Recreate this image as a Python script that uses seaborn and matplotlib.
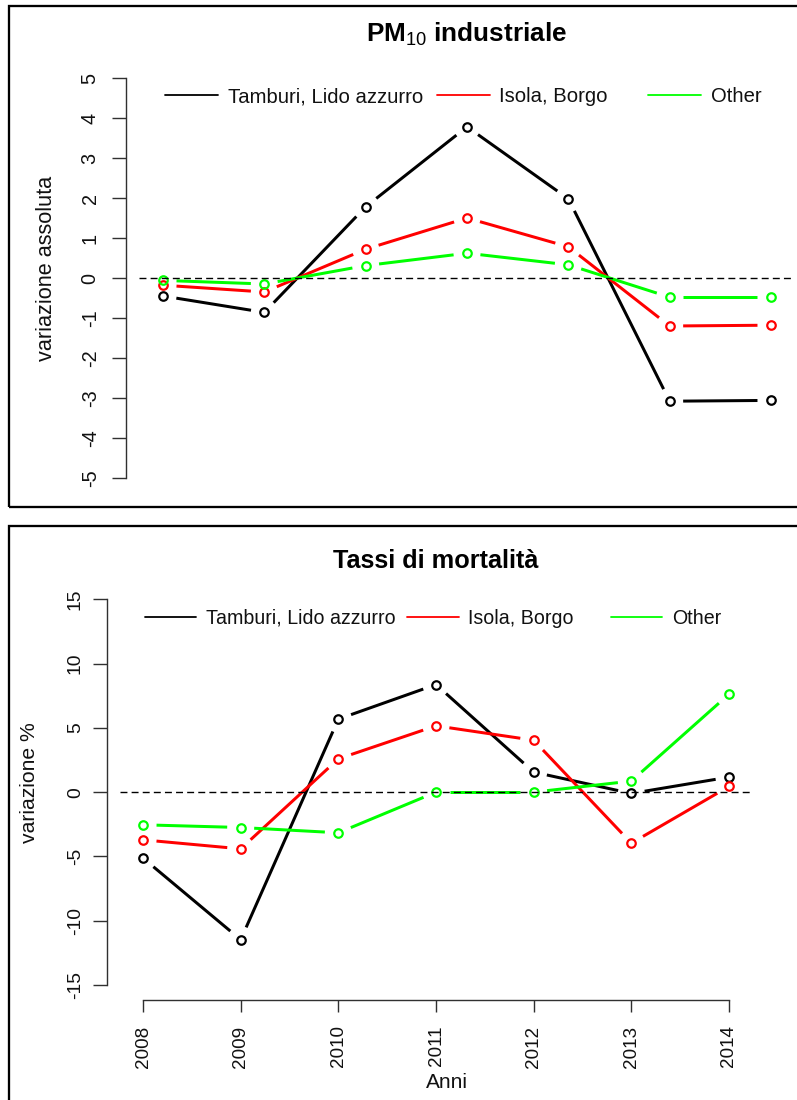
import numpy as np
import pandas as pd
import matplotlib
matplotlib.use("Agg")
import matplotlib.pyplot as plt
from matplotlib.lines import Line2D
from matplotlib.legend import Legend
from matplotlib.patches import Rectangle
import seaborn as sns

# ---------------------------------------------------------------- data
years = [2008, 2009, 2010, 2011, 2012, 2013, 2014]
zones = ["Tamburi, Lido azzurro", "Isola, Borgo", "Other"]
zone_colors = ["#000000", "#ff0000", "#00ff00"]

# PM10 industriale - variazione assoluta
pm10_tamburi = [-0.45, -0.86, 1.78, 3.78, 1.98, -3.08, -3.06]
pm10_isola = [-0.18, -0.35, 0.72, 1.50, 0.78, -1.20, -1.18]
pm10_other = [-0.06, -0.15, 0.31, 0.62, 0.33, -0.48, -0.48]

# Tassi di mortalità - variazione %
mort_tamburi = [-5.13, -11.48, 5.68, 8.37, 1.56, -0.10, 1.17]
mort_isola = [-3.71, -4.41, 2.59, 5.16, 4.04, -3.97, 0.44]
mort_other = [-2.54, -2.75, -3.16, 0.00, 0.00, 0.86, 7.62]

pm10_ticks = list(range(-5, 6))
mort_ticks = list(range(-15, 16, 5))

# ---------------------------------------------------------------- style
W, H, DPI = 797, 1100, 100
sns.set_style("white")
plt.rcParams["font.family"] = ["Liberation Sans", "DejaVu Sans"]
plt.rcParams["axes.unicode_minus"] = False
plt.rcParams["mathtext.fontset"] = "custom"
plt.rcParams["mathtext.rm"] = "Liberation Sans"
plt.rcParams["mathtext.it"] = "Liberation Sans:italic"
plt.rcParams["mathtext.bf"] = "Liberation Sans:bold"

AXIS_COLOR = "#303030"
TEXT_COLOR = "#111111"
GAP_PX = 13.5          # gap left around each point (R type="b")
PT = 72.0 / DPI        # pixels -> points


def fx(px):
    return px / W


def fy(py):
    return 1 - py / H


def px_box(left, top, right, bottom):
    return [left / W, 1 - bottom / H, (right - left) / W, (bottom - top) / H]


def gapped_segments(ax, xs, ys):
    """Line segments between consecutive points, shortened in screen space."""
    pts = ax.transData.transform(np.column_stack([xs, ys]))
    inv = ax.transData.inverted()
    rows = []
    for i in range(len(pts) - 1):
        d = pts[i + 1] - pts[i]
        length = np.hypot(*d)
        if length <= 2 * GAP_PX:
            continue
        u = d / length
        a, b = inv.transform([pts[i] + u * GAP_PX, pts[i + 1] - u * GAP_PX])
        rows.append({"seg": i, "x": a[0], "y": a[1]})
        rows.append({"seg": i, "x": b[0], "y": b[1]})
    return pd.DataFrame(rows)


def draw_series(ax, values_list):
    for vals, col in zip(values_list, zone_colors):
        seg = gapped_segments(ax, years, vals)
        sns.lineplot(data=seg, x="x", y="y", units="seg", estimator=None,
                     sort=False, color=col, linewidth=3 * PT,
                     solid_capstyle="butt", legend=False, ax=ax, zorder=3)
        sns.lineplot(x=years, y=vals, color=col, marker="o", linestyle="",
                     markerfacecolor="none", markeredgecolor=col,
                     markeredgewidth=2.2 * PT, markersize=8.5 * PT,
                     errorbar=None, legend=False, ax=ax, zorder=4)
    ax.axhline(0, color="black", lw=1.0, ls=(0, (5, 3)), zorder=5)


def draw_legend(ax, starts_px, y_px, fs, hlen, hpad):
    for name, col, x0 in zip(zones, zone_colors, starts_px):
        handle = Line2D([], [], color=col, lw=1.3)
        leg = Legend(ax, [handle], [name], loc="center left",
                     bbox_to_anchor=(fx(x0), fy(y_px)),
                     bbox_transform=fig.transFigure, frameon=False,
                     borderpad=0, borderaxespad=0, handlelength=hlen,
                     handletextpad=hpad, fontsize=fs, labelcolor=TEXT_COLOR)
        ax.add_artist(leg)


def style_y_axis(ax, ticks, out_px, tick_len_px, pad_px, fs):
    ax.spines[["top", "right", "bottom"]].set_visible(False)
    ax.spines["left"].set_bounds(ticks[0], ticks[-1])
    ax.spines["left"].set_position(("outward", out_px * PT))
    ax.spines["left"].set_color(AXIS_COLOR)
    ax.spines["left"].set_linewidth(1.4 * PT)
    ax.set_yticks(ticks)
    ax.set_yticklabels([str(t) for t in ticks], rotation=90, va="center",
                       ha="right", fontsize=fs, color=TEXT_COLOR)
    ax.tick_params(axis="y", length=tick_len_px * PT, width=1.4 * PT,
                   color=AXIS_COLOR, pad=pad_px * PT, left=True)
    ax.set_xlabel("")
    ax.set_ylabel("")


fig = plt.figure(figsize=(W / DPI, H / DPI), dpi=DPI)
fig.patch.set_facecolor("white")

# ---------------------------------------------------------------- panel 1
ax1 = fig.add_axes(px_box(138.7, 62, 795.3, 494))
ax1.set_facecolor("none")
ax1.set_xlim(2008 - 0.24, 2014 + 0.24)
ax1.set_ylim(-5.4, 5.4)
draw_series(ax1, [pm10_tamburi, pm10_isola, pm10_other])
ax1.set_xlim(2008 - 0.24, 2014 + 0.24)
ax1.set_ylim(-5.4, 5.4)
style_y_axis(ax1, pm10_ticks, 12.7, 14.3, 12.0, 14.3)
ax1.set_xticks([])
draw_legend(ax1, [165.3, 436.7, 648.3], 96.7, 14.6, 2.62, 0.46)
fig.text(fx(466.7), fy(41.7), r"PM$_{10}$ industriale", ha="center",
         va="baseline", fontsize=18.8, fontweight="bold", color="black")
fig.text(fx(47), fy(268.3), "variazione assoluta", rotation=90,
         ha="center", va="center", fontsize=15.6, color=TEXT_COLOR)

# ---------------------------------------------------------------- panel 2
ax2 = fig.add_axes(px_box(119.6, 583.9, 752.4, 1000.4))
ax2.set_facecolor("none")
ax2.set_xlim(2008 - 0.24, 2014 + 0.24)
ax2.set_ylim(-16.2, 16.2)
draw_series(ax2, [mort_tamburi, mort_isola, mort_other])
ax2.set_xlim(2008 - 0.24, 2014 + 0.24)
ax2.set_ylim(-16.2, 16.2)
style_y_axis(ax2, mort_ticks, 12.3, 14.0, 9.5, 13.9)
ax2.spines["bottom"].set_visible(True)
ax2.spines["bottom"].set_bounds(years[0], years[-1])
ax2.spines["bottom"].set_color(AXIS_COLOR)
ax2.spines["bottom"].set_linewidth(1.4 * PT)
ax2.set_xticks(years)
ax2.set_xticklabels([str(y) for y in years], rotation=90, ha="center",
                    va="top", fontsize=13.6, color=TEXT_COLOR)
ax2.tick_params(axis="x", length=12 * PT, width=1.4 * PT, color=AXIS_COLOR,
                pad=13 * PT, bottom=True)
draw_legend(ax2, [145.0, 407.3, 611.0], 618.3, 14.1, 2.62, 0.5)
fig.text(fx(435.5), fy(568.3), "Tassi di mortalità", ha="center",
         va="baseline", fontsize=18.2, fontweight="bold", color="black")
fig.text(fx(29.3), fy(782.5), "variazione %", rotation=90,
         ha="center", va="center", fontsize=15.2, color=TEXT_COLOR)
fig.text(fx(446.8), fy(1088), "Anni", ha="center", va="baseline",
         fontsize=15.0, color=TEXT_COLOR)

# ---------------------------------------------------------------- frames
for top, bottom in [(5.7, 507.3), (525.7, 1115)]:
    fig.add_artist(Rectangle((fx(9.3), fy(bottom)), (830 - 9.3) / W,
                             (bottom - top) / H, transform=fig.transFigure,
                             fill=False, ec="black", lw=2.3 * PT,
                             clip_on=False))

fig.savefig("out.png", dpi=DPI, facecolor="white")
